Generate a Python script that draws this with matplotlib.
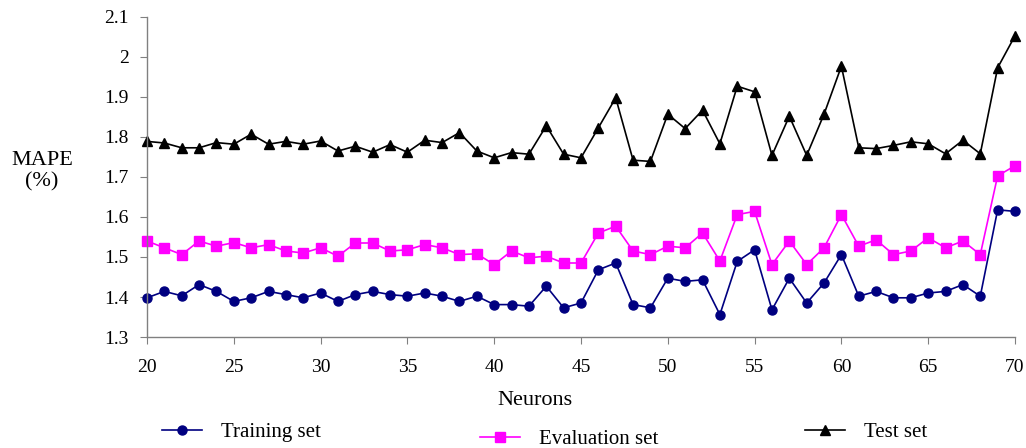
import matplotlib.pyplot as plt
import numpy as np

neurons = np.arange(20, 71)

training = [1.398, 1.414, 1.403, 1.431, 1.414, 1.389, 1.398, 1.414, 1.406, 1.398,
            1.410, 1.389, 1.406, 1.414, 1.406, 1.402, 1.410, 1.402, 1.389, 1.402,
            1.381, 1.381, 1.377, 1.427, 1.373, 1.385, 1.468, 1.485, 1.381, 1.373,
            1.447, 1.439, 1.443, 1.356, 1.489, 1.518, 1.368, 1.447, 1.385, 1.435,
            1.506, 1.402, 1.414, 1.398, 1.398, 1.410, 1.414, 1.431, 1.402, 1.618,
            1.614]
evaluation = [1.540, 1.523, 1.506, 1.540, 1.527, 1.536, 1.523, 1.531, 1.515, 1.510,
              1.523, 1.502, 1.535, 1.535, 1.515, 1.518, 1.531, 1.523, 1.506, 1.508,
              1.481, 1.515, 1.498, 1.502, 1.485, 1.485, 1.560, 1.577, 1.515, 1.506,
              1.527, 1.523, 1.560, 1.490, 1.606, 1.614, 1.481, 1.540, 1.481, 1.523,
              1.606, 1.527, 1.543, 1.506, 1.515, 1.548, 1.523, 1.540, 1.506, 1.703,
              1.728]
test = [1.789, 1.785, 1.773, 1.773, 1.786, 1.782, 1.807, 1.782, 1.789, 1.782,
        1.790, 1.765, 1.777, 1.762, 1.781, 1.762, 1.792, 1.786, 1.811, 1.765,
        1.748, 1.761, 1.757, 1.828, 1.757, 1.748, 1.823, 1.898, 1.742, 1.739,
        1.857, 1.821, 1.867, 1.783, 1.927, 1.913, 1.754, 1.852, 1.754, 1.857,
        1.977, 1.773, 1.771, 1.779, 1.788, 1.783, 1.758, 1.792, 1.758, 1.973,
        2.053]

plt.rcParams['font.family'] = ['Liberation Serif', 'DejaVu Serif']

fig = plt.figure(figsize=(10.26, 4.48), dpi=100)
ax = fig.add_axes([147 / 1026, 1 - 337 / 448, 868 / 1026, 320 / 448])

l1, = ax.plot(neurons, training, color='#000080', marker='o', markersize=6.5, lw=1.2)
l2, = ax.plot(neurons, evaluation, color='#ff00ff', marker='s', markersize=6.5, lw=1.2)
l3, = ax.plot(neurons, test, color='black', marker='^', markersize=7.5, lw=1.2)

ax.set_xlim(20, 70)
ax.set_ylim(1.3, 2.1)
ax.set_xticks(range(20, 71, 5))
ax.set_yticks(np.arange(1.3, 2.11, 0.1))
ax.set_yticklabels(['1.3', '1.4', '1.5', '1.6', '1.7', '1.8', '1.9', '2', '2.1'])
for s in ['top', 'right']:
    ax.spines[s].set_visible(False)
for s in ['left', 'bottom']:
    ax.spines[s].set_color('#808080')
    ax.spines[s].set_linewidth(1.0)
ax.tick_params(colors='#808080', labelcolor='black', labelsize=14, length=5)
ax.tick_params(axis='x', pad=11)
ax.tick_params(axis='y', pad=8)
for ln in (l1, l2, l3):
    ln.set_clip_on(False)

fig.text(42 / 1026, 1 - 171 / 448, 'MAPE\n(%)', ha='center', va='center',
         fontsize=16, linespacing=1.15)
fig.text(535 / 1026, 1 - 400 / 448, 'Neurons', ha='center', va='center', fontsize=16)

leg_kw = dict(loc='center left', frameon=False, fontsize=15, handlelength=1.9,
              handletextpad=0.95, borderpad=0, borderaxespad=0)
fig.legend([l1], ['Training set'], bbox_to_anchor=(162 / 1026, 1 - 432 / 448), **leg_kw)
fig.legend([l2], ['Evaluation set'], bbox_to_anchor=(480 / 1026, 1 - 439 / 448), **leg_kw)
fig.legend([l3], ['Test set'], bbox_to_anchor=(805 / 1026, 1 - 432 / 448), **leg_kw)

fig.savefig('out.png', dpi=100)
